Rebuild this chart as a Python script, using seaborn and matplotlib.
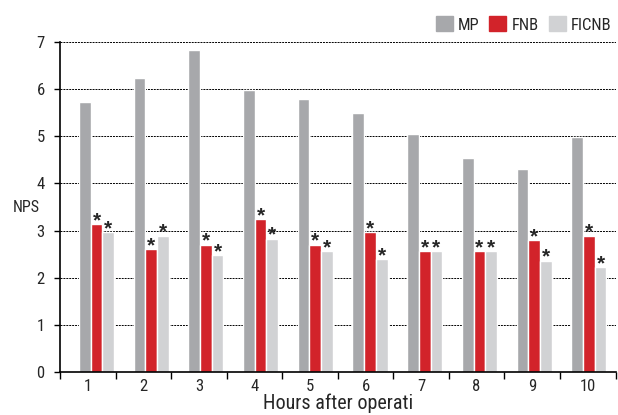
import matplotlib
matplotlib.use("Agg")
import matplotlib.pyplot as plt
from matplotlib import font_manager
import seaborn as sns
import pandas as pd

hours = ["1", "2", "3", "4", "5", "6", "7", "8", "9", "10"]
mp = [5.73, 6.24, 6.84, 5.98, 5.79, 5.50, 5.04, 4.54, 4.31, 4.99]
fnb = [3.14, 2.60, 2.70, 3.24, 2.70, 2.97, 2.56, 2.56, 2.79, 2.89]
ficnb = [2.97, 2.89, 2.48, 2.83, 2.56, 2.40, 2.56, 2.56, 2.36, 2.23]
groups = ["MP", "FNB", "FICNB"]
colors = ["#a7a8ab", "#d2232a", "#d1d2d4"]

df = pd.DataFrame({
    "hour": hours * 3,
    "group": ["MP"] * 10 + ["FNB"] * 10 + ["FICNB"] * 10,
    "nps": mp + fnb + ficnb,
})

installed = {f.name for f in font_manager.fontManager.ttflist}
narrow = [n for n in ["Liberation Sans Narrow", "Roboto Condensed", "Open Sans Condensed",
                      "DejaVu Sans Condensed", "Liberation Sans"] if n in installed]
fam = narrow[0] if narrow else "DejaVu Sans"

sns.set_style("white")
plt.rcParams['font.family'] = [fam, 'DejaVu Sans']

fig = plt.figure(figsize=(6.18, 4.15), dpi=100)
ax = fig.add_axes([60 / 618, 43 / 415, 555.5 / 618, 330 / 415])

sns.barplot(data=df, x="hour", y="nps", hue="group", hue_order=groups,
            palette=colors, width=0.64, saturation=1, ax=ax, legend=False)

# stars above FNB and FICNB bars
for cont in ax.containers[1:]:
    for bar in cont:
        ax.text(bar.get_x() + bar.get_width() / 2, bar.get_height() - 0.13, "*",
                ha="center", va="bottom", fontsize=15, fontweight="bold",
                family=["Liberation Sans", "DejaVu Sans"])

x0, x1 = -0.667, 9.488
ax.set_xlim(x0, x1)
ax.set_ylim(0, 7)

bounds = [x0 + (x1 - x0) * k / 10 for k in range(11)]
centers = [x0 + (x1 - x0) * (k + 0.5) / 10 for k in range(10)]
ax.set_xticks(centers)
ax.set_xticklabels(hours, fontsize=12)
ax.set_xticks(bounds, minor=True)
ax.tick_params(axis="x", which="major", length=0, pad=5)
ax.tick_params(axis="x", which="minor", length=5, width=1, color="black", direction="out", bottom=True)

ax.set_yticks(range(8))
ax.set_yticklabels([str(i) for i in range(8)], fontsize=12)
ax.tick_params(axis="y", length=4, width=1, color="black", direction="out", left=True, pad=7)

for v in range(1, 8):
    ax.axhline(v, color="black", lw=0.7, ls=(0, (2, 1)), zorder=0)
ax.set_axisbelow(True)

sns.despine(ax=ax, top=True, right=True)
for side in ["left", "bottom"]:
    ax.spines[side].set_color("black")
    ax.spines[side].set_linewidth(1.2)

ax.set_xlabel("Hours after operati", fontsize=14.5, labelpad=0)
ax.set_ylabel("NPS", fontsize=11.5, rotation=0, labelpad=0)
ax.yaxis.set_label_coords(-0.061, 0.475)

handles = [plt.Rectangle((0, 0), 1, 1, color=c) for c in colors]
fig.legend(handles, groups, loc="upper right", bbox_to_anchor=(1.012, 0.995), ncol=3,
           frameon=False, fontsize=12, handlelength=1.02, handleheight=1.02,
           handletextpad=0.3, columnspacing=0.6, borderaxespad=0.45)

fig.savefig("out.png", dpi=100)
